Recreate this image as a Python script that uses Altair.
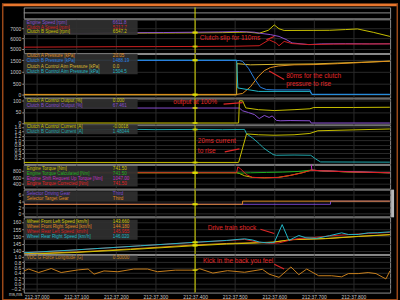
import altair as alt
import pandas as pd

# ---------------- layout / style ----------------
W = 370
XDOM = [-32.5, 892.5]
TIME_TICKS = [0, 100, 200, 300, 400, 500, 600, 700, 800]
CURSOR_T = 400
FONT = "Liberation Sans"
BG = "#000000"
GRID = "#2a2a2a"
FRAME = "#8e8e8e"
LABEL = "#c8c8c8"
CUR = "#e0e000"
RED = "#e02828"
BOX = "#2f2f2f"
ORANGE = "#e8762d"
BORDER = "#9a4818"

# ---------------- data ----------------
# Panel 1: speeds [rpm]
p1_names = ["Engine Speed [rpm]", "Clutch A Speed [rpm]", "Clutch B Speed [rpm]"]
p1_vals = ["6611.8", "5217.7", "6547.2"]
p1_cursor = [6611.8, 5217.7, 6547.2]
p1_colors = ["#8a4fd0", "#d02020", "#c8c000"]
eng_t = [-32, 40, 110, 180, 250, 320, 400, 460, 512, 550, 562, 590, 612, 630, 645, 687, 720, 780, 840, 892]
eng_v = [6470, 6520, 6490, 6540, 6560, 6580, 6612, 6640, 6680, 6610, 6520, 6380, 6200, 5900, 5560, 5400, 5470, 5490, 5470, 5480]
ca_t = [-32, 100, 200, 300, 400, 500, 562, 587, 605, 612, 625, 645, 690, 750, 820, 892]
ca_v = [5150, 5175, 5195, 5205, 5218, 5240, 5290, 5870, 5550, 5290, 5710, 5500, 5400, 5450, 5460, 5470]
cb_t = [-32, 60, 130, 200, 280, 350, 400, 470, 530, 562, 585, 600, 612, 625, 700, 740, 780, 810, 850, 892]
cb_v = [6460, 6500, 6480, 6520, 6530, 6540, 6547, 6570, 6620, 6515, 6800, 7320, 6950, 6780, 6790, 6800, 6870, 6930, 6600, 6200]

# Panel 2: pressures [kPa]
p2_names = ["Clutch A Pressure [kPa]", "Clutch B Pressure [kPa]",
            "Clutch A Control Aim Pressure [kPa]", "Clutch B Control Aim Pressure [kPa]"]
p2_vals = ["20.05", "1488.19", "0.0", "1504.5"]
p2_cursor = [20.05, 1488.19, 0.0, 1504.5]
p2_colors = ["#e0901e", "#2a7fe0", "#d8b830", "#22b8c8"]
pa_t = [-32, 400, 505, 520, 540, 560, 575, 590, 610, 650, 700, 760, 820, 892]
pa_v = [20, 20.05, 20, 60, 350, 800, 1050, 1180, 1250, 1300, 1311, 1350, 1400, 1457]
pb_t = [-32, 400, 512, 520, 535, 550, 565, 580, 600, 690, 695, 892]
pb_v = [1488, 1488.19, 1488, 1450, 1150, 700, 330, 230, 214, 214, 26, 26]
aa_t = [-32, 400, 505, 506, 540, 600, 700, 800, 892]
aa_v = [0, 0, 0, 1350, 1300, 1320, 1340, 1400, 1460]
ab_t = [-32, 400, 505, 508, 560, 690, 695, 892]
ab_v = [1504.5, 1504.5, 1504.5, 300, 150, 150, 15, 15]

# Panel 3: control output [%]
p3_names = ["Clutch A Control Output [%]", "Clutch B Control Output [%]"]
p3_vals = ["0.000", "67.461"]
p3_cursor = [0.0, 67.461]
p3_colors = ["#c8c000", "#8a4fd0"]
oa_t = [-32, 400, 510, 512, 520, 528, 560, 600, 650, 690, 700, 800, 892]
oa_v = [0, 0, 0, 100, 100, 68, 60, 56, 60, 64, 70, 70, 71]
ob_t = [-32, 400, 512, 520, 535, 550, 562, 575, 587, 595, 605, 615, 640, 690, 693, 892]
ob_v = [67.4, 67.461, 67.4, 55, 47, 38, 20, 34, 25, 32, 12, 10, 11, 10, 0, 0]

# Panel 4: control current [A]
p4_names = ["Clutch A Control Current [A]", "Clutch B Control Current [A]"]
p4_vals = ["-0.0018", "1.48044"]
p4_cursor = [-0.0018, 1.48044]
p4_colors = ["#c8c000", "#22aab0"]
ia_t = [-32, 400, 510, 530, 560, 600, 650, 690, 710, 800, 892]
ia_v = [-0.002, -0.0018, -0.002, 1.28, 1.24, 1.22, 1.24, 1.3, 1.42, 1.46, 1.5]
ib_t = [-32, 60, 140, 220, 300, 400, 470, 525, 530, 545, 562, 572, 587, 592, 597, 605, 650, 692, 705, 717, 892]
ib_v = [1.47, 1.49, 1.46, 1.49, 1.47, 1.48, 1.47, 1.48, 1.28, 1.1, 0.84, 0.66, 0.47, 0.42, 0.35, 0.32, 0.33, 0.32, 0.15, 0.02, 0.01]

# Panel 5: torque [Nm]
p5_names = ["Engine Torque [Nm]", "Engine Torque Calculated [Nm]",
            "Engine Shift Request Up Torque [Nm]", "Engine Torque Corrected [Nm]"]
p5_vals = ["741.50", "741.50", "1047.00", "741.50"]
p5_cursor = [741.5, 741.5, 741.5]
p5_colors = ["#c8c000", "#20b020", "#c030c0", "#e02020"]
tq_t = [-32, 400, 505, 512, 525, 545, 575, 610, 640, 670, 693, 720, 780, 840, 892]
tq_v = [741, 741.5, 741, 720, 650, 600, 590, 600, 660, 740, 820, 800, 770, 750, 740]
tc_t = [-32, 400, 505, 515, 540, 580, 620, 660, 693, 720, 780, 892]
tc_v = [741, 741.5, 741, 730, 740, 750, 760, 780, 820, 800, 770, 740]
ts_t = [-32, 400, 693, 695, 720, 892]
ts_v = [1047, 1047, 1047, 820, 800, 740]
tr_t = [-32, 400, 505, 508, 515, 530, 545, 575, 610, 640, 670, 693, 720, 780, 840, 892]
tr_v = [741, 741.5, 741, 920, 860, 680, 600, 588, 598, 658, 738, 818, 800, 770, 752, 742]

# Panel 6: gears
p6_names = ["Selector Driving Gear", "Selector Target Gear"]
p6_vals = ["Third", "Third"]
p6_cursor = [3, 3]
p6_colors = ["#7a48d0", "#e08a20"]
gd_t = [-32, 742, 892]
gd_v = [3, 4, 4]
gt_t = [-32, 520, 892]
gt_v = [3, 4, 4]

# Panel 7: wheel speeds [km/h]
p7_names = ["Wheel Front Left Speed [km/h]", "Wheel Front Right Speed [km/h]",
            "Wheel Rear Left Speed [km/h]", "Wheel Rear Right Speed [km/h]"]
p7_vals = ["143.660", "144.180", "145.955", "146.020"]
p7_cursor = [143.66, 144.18, 145.955, 146.02]
p7_colors = ["#d0c400", "#e08a20", "#d82020", "#20b8c8"]
wfl_t = [-32, 100, 237, 400, 480, 562, 595, 645, 730, 812, 892]
wfl_v = [137.8, 139.0, 141.0, 143.66, 144.8, 145.6, 146.0, 147.9, 148.6, 150.1, 151.3]
wfr_t = [-32, 100, 237, 400, 480, 562, 595, 645, 730, 812, 892]
wfr_v = [138.1, 139.3, 141.4, 144.18, 145.2, 145.8, 146.1, 147.8, 148.5, 150.0, 151.2]
wrl_t = [-32, 100, 262, 400, 480, 525, 562, 590, 612, 637, 662, 690, 740, 787, 837, 892]
wrl_v = [138.8, 140.8, 143.6, 145.955, 147.2, 148.0, 146.0, 145.3, 145.6, 147.3, 148.6, 149.0, 150.4, 151.3, 152.1, 152.8]
wrr_t = [-32, 100, 262, 400, 480, 525, 545, 562, 580, 600, 620, 637, 662, 680, 707, 740, 770, 787, 812, 837, 860, 892]
wrr_v = [138.8, 140.8, 143.6, 146.02, 147.3, 148.4, 147.6, 146.2, 145.7, 145.8, 158.2, 147.3, 150.7, 149.1, 148.7, 150.6, 152.5, 151.4, 151.4, 152.5, 152.6, 153.2]

# Panel 8: longitudinal G
p8_names = ["VDC G Force Longitude [G]"]
p8_vals = ["0.50000"]
p8_cursor = [0.5]
p8_colors = ["#c8801c"]
g_t = [-32, -20, 5, 37, 62, 105, 130, 145, 170, 205, 245, 280, 305, 350, 400, 412, 445, 482, 525, 570,
       587, 612, 642, 662, 682, 712, 745, 770, 787, 812, 837, 857, 882, 892]
g_v = [0.47, 0.54, 0.41, 0.56, 0.41, 0.51, 0.54, 0.35, 0.47, 0.44, 0.54, 0.54, 0.44, 0.5, 0.5, 0.55, 0.39, 0.48, 0.42, 0.53,
       0.35, 0.23, 0.62, 0.33, 0.54, 0.29, 0.29, 0.25, 0.37, 0.37, 0.41, 0.37, 0.17, 0.47]

# annotations (text, time, value) and arrows (t, t2, v, v2)
a1_text = ["Clutch slip for 110ms"]; a1_t = [412]; a1_v = [6032]
r1 = ([580], [600], [5867], [6197])
a2_text = ["80ms for the clutch", "pressure to rise"]; a2_t = [630, 630]; a2_v = [814, 454]
r2 = ([625], [587], [669], [1029])
a3_text = ["output at 100%"]; a3_t = [345]; a3_v = [94]
r3 = ([472], [520], [85], [92])
a4_text = ["20ms current", "to rise"]; a4_t = [407, 407]; a4_v = [0.94, 0.5]
r4 = ([475], [512], [0.47], [0.61])
a7_text = ["Drive train shock"]; a7_t = [432]; a7_v = [155.5]
r7 = ([565], [600], [155], [152.1])
a8_text = ["Kick in the back you feel"]; a8_t = [420]; a8_v = [0.844]
r8 = ([600], [625], [0.72], [0.54])

# ---------------- helpers ----------------
XS = alt.Scale(domain=XDOM, nice=False, zero=False)


def x_enc(bottom):
    if bottom:
        ax = alt.Axis(values=TIME_TICKS, labelExpr="'212:37.' + format(datum.value, '03d')",
                      grid=True, gridColor=GRID, ticks=False, domain=False, labelFontSize=5,
                      labelColor=LABEL, labelFont=FONT, labelPadding=2, title=None,
                      labelFlush=False, labelOverlap=False)
    else:
        ax = alt.Axis(values=TIME_TICKS, labels=False, ticks=False, domain=False,
                      grid=True, gridColor=GRID, title=None)
    return alt.X("t:Q", scale=XS, axis=ax)


def panel(h, ydom, yticks, yfmt, series, names, vals, colors, cursor_vals, ltop, lstep,
          ann=None, arrows=None, bottom=False, interp="linear", extra=()):
    xe = x_enc(bottom)
    ye = alt.Y("v:Q", scale=alt.Scale(domain=ydom, nice=False, zero=False),
               axis=alt.Axis(values=yticks, format=yfmt, grid=True, gridColor=GRID, domain=False,
                             ticks=True, tickSize=2, tickColor="#9a9a9a", labelFontSize=5,
                             labelColor=LABEL, labelFont=FONT, labelPadding=1, title=None,
                             labelOverlap=False, labelFlush=False))
    layers = []
    for idx, ts, vs in series:
        df = pd.DataFrame({"t": ts, "v": vs})
        layers.append(alt.Chart(df).mark_line(color=colors[idx], strokeWidth=1, clip=True,
                                              interpolate=interp).encode(x=xe, y=ye))
    layers.append(alt.Chart(pd.DataFrame({"t": [CURSOR_T]})).mark_rule(color=CUR, strokeWidth=1)
                  .encode(x=xe))
    layers.append(alt.Chart(pd.DataFrame({"t": [CURSOR_T] * len(cursor_vals), "v": cursor_vals}))
                  .mark_tick(orient="horizontal", color=CUR, size=5, thickness=2, clip=True)
                  .encode(x=xe, y=ye))
    n = len(names)
    layers.append(alt.Chart(pd.DataFrame({"k": [0]})).mark_rect(fill=BOX, opacity=0.93)
                  .encode(x=alt.value(0), x2=alt.value(115), y=alt.value(ltop - 2.6),
                          y2=alt.value(ltop + (n - 1) * lstep + 2.6)))
    leg = pd.DataFrame({"name": names, "val": vals, "row": list(range(n))})
    cscale = alt.Scale(domain=names, range=colors)
    base = alt.Chart(leg).transform_calculate(py=f"{ltop} + datum.row * {lstep}")
    layers.append(base.mark_text(align="left", baseline="middle", fontSize=4.6, font=FONT)
                  .encode(x=alt.value(3), y=alt.Y("py:Q", scale=None), text="name:N",
                          color=alt.Color("name:N", scale=cscale, legend=None)))
    layers.append(base.mark_text(align="left", baseline="middle", fontSize=4.6, font=FONT)
                  .encode(x=alt.value(90), y=alt.Y("py:Q", scale=None), text="val:N",
                          color=alt.Color("name:N", scale=cscale, legend=None)))
    if ann is not None:
        adf = pd.DataFrame({"label": ann[0], "t": ann[1], "v": ann[2]})
        layers.append(alt.Chart(adf).mark_text(align="left", baseline="middle", fontSize=6.6,
                                               font=FONT, color=RED)
                      .encode(x=xe, y=ye, text="label:N"))
    if arrows is not None:
        rdf = pd.DataFrame({"t": arrows[0], "t2": arrows[1], "v": arrows[2], "v2": arrows[3]})
        layers.append(alt.Chart(rdf).mark_rule(color=RED, strokeWidth=1.2)
                      .encode(x=xe, x2="t2:Q", y=ye, y2="v2:Q"))
    layers.extend(extra)
    return alt.layer(*layers).properties(width=W, height=h)


one = pd.DataFrame({"t": [CURSOR_T]})

header = alt.layer(
    alt.Chart(one).mark_rect(color=ORANGE).encode(
        x=alt.value(-22), x2=alt.value(W + 8), y=alt.value(-4), y2=alt.value(-1.3)),
    alt.Chart(one).mark_rule(color=FRAME).encode(
        x=alt.value(0), x2=alt.value(W), y=alt.value(5.5)),
    alt.Chart(one).mark_rule(color=CUR).encode(x=alt.X("t:Q", scale=XS, axis=None)),
).properties(width=W, height=11)

p1 = panel(34, [4580, 7871], [5000, 6000, 7000], "d",
           [(2, cb_t, cb_v), (0, eng_t, eng_v), (1, ca_t, ca_v)],
           p1_names, p1_vals, p1_colors, p1_cursor, 3.3, 5,
           ann=(a1_text, a1_t, a1_v), arrows=r1)

p2 = panel(44, [-116, 1770], [0, 500, 1000, 1500], "d",
           [(2, aa_t, aa_v), (0, pa_t, pa_v), (3, ab_t, ab_v), (1, pb_t, pb_v)],
           p2_names, p2_vals, p2_colors, p2_cursor, 2.3, 5.2,
           ann=(a2_text, a2_t, a2_v), arrows=r2)

p3 = panel(26, [-5.8, 110.3], [0, 50, 100], "d",
           [(1, ob_t, ob_v), (0, oa_t, oa_v)],
           p3_names, p3_vals, p3_colors, p3_cursor, 3, 5,
           ann=(a3_text, a3_t, a3_v), arrows=r3)

p4 = panel(39, [-0.067, 1.667], [0.2, 0.4, 0.6, 0.8, 1.0, 1.2, 1.4, 1.6], ".1f",
           [(1, ib_t, ib_v), (0, ia_t, ia_v)],
           p4_names, p4_vals, p4_colors, p4_cursor, 2, 4.4,
           ann=(a4_text, a4_t, a4_v), arrows=r4)

p5 = panel(24, [259, 980], [400, 600, 800], "d",
           [(0, tq_t, tq_v), (1, tc_t, tc_v), (2, ts_t, ts_v), (3, tr_t, tr_v)],
           p5_names, p5_vals, p5_colors, p5_cursor, 3.7, 5.2)

scroll = alt.Chart(one).mark_rect(color="#b8b8b8").encode(
    x=alt.value(W + 1), x2=alt.value(W + 4), y=alt.value(0), y2=alt.value(28))
p6 = panel(27, [-0.85, 7.67], [0, 2, 4, 6], "d",
           [(0, gd_t, gd_v), (1, gt_t, gt_v)],
           p6_names, p6_vals, p6_colors, p6_cursor, 4.3, 5,
           interp="step-after", extra=(scroll,))

p7 = panel(37, [137.95, 163.2], [140, 145, 150, 155, 160], "d",
           [(1, wfr_t, wfr_v), (0, wfl_t, wfl_v), (2, wrl_t, wrl_v), (3, wrr_t, wrr_v)],
           p7_names, p7_vals, p7_colors, p7_cursor, 5, 5,
           ann=(a7_text, a7_t, a7_v), arrows=r7)

frame_layers = (
    alt.Chart(one).mark_rule(color=BORDER, strokeWidth=1.5).encode(
        x=alt.value(-21.25), y=alt.value(-254), y2=alt.value(46)),
    alt.Chart(one).mark_rule(color=BORDER, strokeWidth=1.5).encode(
        x=alt.value(W + 7.25), y=alt.value(-254), y2=alt.value(46)),
    alt.Chart(one).mark_rule(color=BORDER, strokeWidth=1.5).encode(
        x=alt.value(-22), x2=alt.value(W + 8), y=alt.value(45.25)),
    alt.Chart(one).mark_text(align="left", baseline="middle", fontSize=4.6, font=FONT,
                             color=LABEL).encode(
        x=alt.value(-15), y=alt.value(40.5), text=alt.value("ms,ms")),
)
p8 = panel(38, [-0.34, 1.067], [-0.2, 0.0, 0.2, 0.4, 0.6, 0.8, 1.0], ".1f",
           [(0, g_t, g_v)],
           p8_names, p8_vals, p8_colors, p8_cursor, 3.3, 5,
           ann=(a8_text, a8_t, a8_v), arrows=r8, bottom=True, extra=frame_layers)

chart = alt.vconcat(header, p1, p2, p3, p4, p5, p6, p7, p8, spacing=1, bounds="flush",
                    padding=0).resolve_scale(
    x="independent", y="independent", color="independent"
).configure(background=BG).configure_view(stroke=FRAME, strokeWidth=1, fill=BG)

chart.save("out.html", embed_options={"renderer": "svg", "actions": False})
